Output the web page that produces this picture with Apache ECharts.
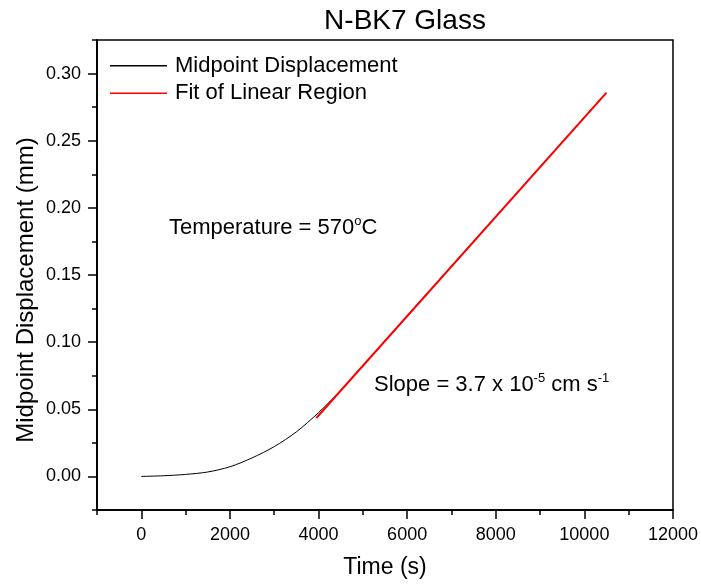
<!DOCTYPE html>
<html>
<head>
<meta charset="utf-8">
<script src="https://cdn.jsdelivr.net/npm/echarts@6/dist/echarts.min.js"></script>
<style>
  html, body { margin: 0; padding: 0; background: #fff; }
  #main { width: 701px; height: 584px; }
</style>
</head>
<body>
<div id="main"></div>
<script>
// 数据
var timeData = [0, 500, 1000, 1500, 2000, 2500, 3000, 3500, 4000, 4500, 5000, 5500, 6000, 7000, 8000, 9000, 10000, 10450];
var dispData = [0, 0.0005, 0.0015, 0.0033, 0.0072, 0.0138, 0.0222, 0.0332, 0.0475, 0.0640, 0.0825, 0.1010, 0.1196, 0.1566, 0.1935, 0.2305, 0.2675, 0.2842];
var fitTime = [3950, 10500];
var fitDisp = [0.0435, 0.2858];

var xMajor = [0, 2000, 4000, 6000, 8000, 10000, 12000];
var xMinor = [-1000, 1000, 3000, 5000, 7000, 9000, 11000];
var yMajor = [0, 0.05, 0.10, 0.15, 0.20, 0.25, 0.30];
var yMinor = [-0.025, 0.025, 0.075, 0.125, 0.175, 0.225, 0.275, 0.325];

var FONT = "'Liberation Sans', Arial, sans-serif";

function pairs(xs, ys) {
    var out = [];
    for (var i = 0; i < xs.length; i++) {
        out.push([xs[i], ys[i]]);
    }
    return out;
}

var myChart = echarts.init(document.getElementById('main'));

var axisLine = { show: true, onZero: false, lineStyle: { color: '#000', width: 1.5 } };

var option = {
    animation: false,
    backgroundColor: '#fff',
    title: {
        text: 'N-BK7 Glass',
        left: 400,
        top: 2,
        textAlign: 'center',
        textStyle: { fontFamily: FONT, fontSize: 28, fontWeight: 'normal', color: '#000' }
    },
    legend: {
        orient: 'vertical',
        left: 105,
        top: 47,
        itemWidth: 57,
        itemHeight: 1.5,
        itemGap: 0,
        icon: 'rect',
        textStyle: { fontFamily: FONT, fontSize: 22, color: '#000', lineHeight: 27.5, padding: [0, 0, 0, 3] },
        data: ['Midpoint Displacement', 'Fit of Linear Region']
    },
    grid: {
        left: 97, right: 27, top: 40, bottom: 73,
        show: true,
        borderColor: '#000',
        borderWidth: 1.5
    },
    xAxis: [
        {
            type: 'value',
            min: -1000, max: 12000,
            name: 'Time (s)',
            nameLocation: 'middle',
            nameGap: 46,
            nameTextStyle: { fontFamily: FONT, fontSize: 23, color: '#000' },
            axisLine: axisLine,
            splitLine: { show: false },
            axisTick: { show: true, inside: false, length: 9, customValues: xMajor, lineStyle: { color: '#000', width: 1.5 } },
            axisLabel: {
                customValues: xMajor, margin: 16, fontFamily: FONT, fontSize: 18, color: '#000',
                formatter: function (v) { return String(v); }
            }
        },
        {
            type: 'value',
            min: -1000, max: 12000,
            position: 'bottom',
            axisLine: axisLine,
            splitLine: { show: false },
            axisTick: { show: true, inside: false, length: 5, customValues: xMinor, lineStyle: { color: '#000', width: 1.5 } },
            axisLabel: { show: false }
        }
    ],
    yAxis: [
        {
            type: 'value',
            min: -0.025, max: 0.325,
            axisLine: axisLine,
            splitLine: { show: false },
            axisTick: { show: true, inside: false, length: 9, customValues: yMajor, lineStyle: { color: '#000', width: 1.5 } },
            axisLabel: {
                customValues: yMajor, margin: 16, fontFamily: FONT, fontSize: 18, color: '#000',
                formatter: function (v) { return v.toFixed(2); }
            }
        },
        {
            type: 'value',
            min: -0.025, max: 0.325,
            position: 'left',
            axisLine: axisLine,
            splitLine: { show: false },
            axisTick: { show: true, inside: false, length: 5, customValues: yMinor, lineStyle: { color: '#000', width: 1.5 } },
            axisLabel: { show: false }
        }
    ],
    graphic: [
        {
            type: 'text',
            x: 26, y: 290,
            rotation: Math.PI / 2,
            style: {
                text: 'Midpoint Displacement (mm)',
                font: '24px ' + FONT,
                fill: '#000',
                align: 'center',
                verticalAlign: 'middle'
            }
        },
        {
            type: 'text',
            x: 169, y: 215,
            style: {
                text: '{a|Temperature = 570}{s|o}{a|C}',
                fill: '#000',
                rich: {
                    a: { fontFamily: FONT, fontSize: 22, lineHeight: 26, fill: '#000' },
                    s: { fontFamily: FONT, fontSize: 13, lineHeight: 13, verticalAlign: 'top', fill: '#000' }
                }
            }
        },
        {
            type: 'text',
            x: 374, y: 372,
            style: {
                text: '{a|Slope = 3.7 x 10}{s|-5}{a| cm s}{s|-1}',
                fill: '#000',
                rich: {
                    a: { fontFamily: FONT, fontSize: 22, lineHeight: 26, fill: '#000' },
                    s: { fontFamily: FONT, fontSize: 13, lineHeight: 13, verticalAlign: 'top', fill: '#000' }
                }
            }
        }
    ],
    series: [
        {
            name: 'Midpoint Displacement',
            type: 'line',
            xAxisIndex: 0, yAxisIndex: 0,
            data: pairs(timeData, dispData),
            smooth: 0.3,
            showSymbol: false,
            color: '#000',
            lineStyle: { color: '#000', width: 1 }
        },
        {
            name: 'Fit of Linear Region',
            type: 'line',
            xAxisIndex: 0, yAxisIndex: 0,
            data: pairs(fitTime, fitDisp),
            showSymbol: false,
            color: '#ff0000',
            lineStyle: { color: '#ff0000', width: 2 }
        }
    ]
};

myChart.setOption(option);
</script>
</body>
</html>
